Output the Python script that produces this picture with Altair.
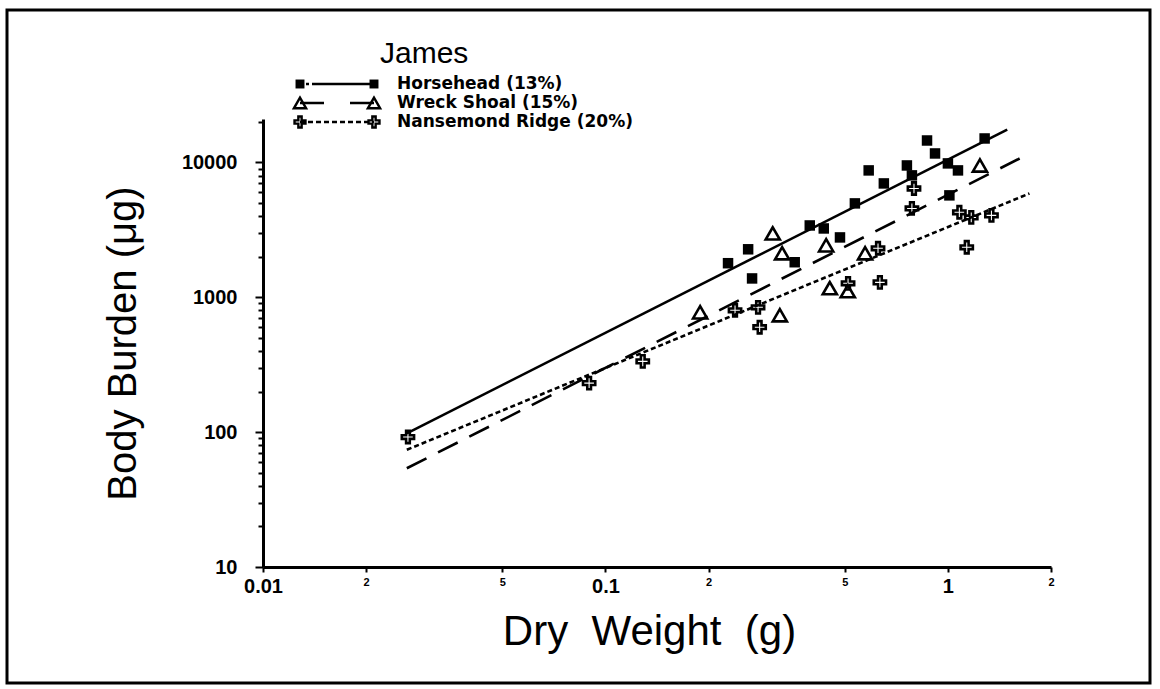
import altair as alt
import pandas as pd

# ---------------- data: dry weight (g) vs body burden (ug) ----------------
site_names = ["Horsehead (13%)", "Wreck Shoal (15%)", "Nansemond Ridge (20%)"]

hh_x = [0.228, 0.261, 0.268, 0.357, 0.395, 0.434, 0.484, 0.535, 0.587, 0.650,
        0.759, 0.785, 0.869, 0.917, 1.00, 1.07, 1.01, 1.28]
hh_y = [1790, 2270, 1380, 1820, 3410, 3240, 2780, 4970, 8730, 6990,
        9500, 8020, 14550, 11660, 9840, 8730, 5700, 15060]

ws_x = [0.189, 0.308, 0.328, 0.323, 0.441, 0.452, 0.510, 0.573, 1.24]
ws_y = [774, 2980, 2120, 736, 2430, 1170, 1110, 2120, 9500]

nr_x = [0.0265, 0.0896, 0.1285, 0.239, 0.279, 0.282, 0.511, 0.625, 0.633,
        0.796, 0.785, 1.08, 1.17, 1.34, 1.135]
nr_y = [92, 231, 335, 801, 843, 600, 1270, 2310, 1290,
        6410, 4560, 4270, 3910, 4050, 2350]

# fitted power-law lines, given by their end points
hh_fit_x = [0.0263, 1.49]
hh_fit_y = [98, 17540]
ws_fit_x = [0.0263, 1.62]
ws_fit_y = [54, 10700]
nr_fit_x = [0.0263, 1.73]
nr_fit_y = [74, 5890]

x_ticks = [0.01, 0.02, 0.05, 0.1, 0.2, 0.5, 1, 2]
y_ticks = [m * 10 ** k for k in range(1, 5) for m in range(1, 10) if m * 10 ** k <= 20000]

# ---------------- layout ----------------
W, H = 788, 448          # plot area
OX, OY = 263, 119        # plot origin inside the page
FONT = "Liberation Sans"
LEG_FONT = "DejaVu Sans"
PLUS = ("M-0.3,-1L0.3,-1L0.3,-0.3L1,-0.3L1,0.3L0.3,0.3L0.3,1L-0.3,1"
        "L-0.3,0.3L-1,0.3L-1,-0.3L-0.3,-0.3Z")
NB = "\u00a0"

big_label = ("datum.value < 0.015 || (datum.value > 0.07 && datum.value < 0.15)"
             " || (datum.value > 0.7 && datum.value < 1.5)")

x_scale = alt.Scale(type="log", domain=[0.01, 2], nice=False)
y_scale = alt.Scale(type="log", domain=[10, 21000], nice=False)

x_axis = alt.Axis(
    title=f"Dry{NB} Weight{NB} (g)", values=x_ticks, grid=False,
    labelExpr=("datum.value < 0.015 ? '0.01' : datum.value < 0.03 ? '2' : "
               "datum.value < 0.07 ? '5' : datum.value < 0.15 ? '0.1' : "
               "datum.value < 0.3 ? '2' : datum.value < 0.7 ? '5' : "
               "datum.value < 1.5 ? '1' : '2'"),
    labelFontSize={"condition": {"test": big_label, "value": 20}, "value": 11},
    labelBaseline="top", labelPadding=4, labelFlush=False, labelOverlap=False,
    labelFont=FONT, labelFontWeight="bold", labelColor="black",
    tickSize=5, tickWidth=2, tickColor="black",
    domainColor="black", domainWidth=3,
    titleFont=FONT, titleFontSize=42, titleFontWeight="normal", titleColor="black",
    titleX=386, titleY=77, titleBaseline="alphabetic", titleAlign="center",
)

y_axis = alt.Axis(
    title="Body Burden (μg)", values=y_ticks, grid=False,
    labelExpr="indexof([10, 100, 1000, 10000], datum.value) >= 0 ? format(datum.value, 'd') : ''",
    labelFontSize=20, labelPadding=18, labelOverlap=False, labelFlush=False,
    labelFont=FONT, labelFontWeight="bold", labelColor="black", labelBaseline="middle",
    tickSize={"condition": {"test": "indexof([10, 100, 1000, 10000], datum.value) >= 0",
                            "value": 8}, "value": 5},
    tickWidth=2, tickColor="black",
    domainColor="black", domainWidth=3,
    titleFont=FONT, titleFontSize=40, titleFontWeight="normal", titleColor="black",
    titleAngle=270, titleX=-128, titleY=224, titleBaseline="alphabetic", titleAlign="center",
)


def frame(xs, ys, site):
    return pd.DataFrame({"x": xs, "y": ys, "site": site})


def xy():
    return dict(x=alt.X("x:Q", scale=x_scale, axis=x_axis),
                y=alt.Y("y:Q", scale=y_scale, axis=y_axis))


LINE_W = 2.6
dash = {"solid": [1, 0], "dashed": [22, 13], "dotted": [5, 3]}

fit_layers = [
    alt.Chart(frame(hh_fit_x, hh_fit_y, site_names[0])).mark_line(
        color="black", strokeWidth=LINE_W).encode(**xy()),
    alt.Chart(frame(ws_fit_x, ws_fit_y, site_names[1])).mark_line(
        color="black", strokeWidth=LINE_W, strokeDash=dash["dashed"]).encode(**xy()),
    alt.Chart(frame(nr_fit_x, nr_fit_y, site_names[2])).mark_line(
        color="black", strokeWidth=LINE_W, strokeDash=dash["dotted"]).encode(**xy()),
]

point_layers = [
    alt.Chart(frame(hh_x, hh_y, site_names[0])).mark_point(
        shape="square", filled=True, color="black", size=110, opacity=1).encode(**xy()),
    alt.Chart(frame(ws_x, ws_y, site_names[1])).mark_point(
        shape="triangle-up", filled=False, color="black", size=200,
        strokeWidth=2.6, opacity=1).encode(**xy()),
    alt.Chart(frame(nr_x, nr_y, site_names[2])).mark_point(
        shape=PLUS, filled=False, color="black", size=150,
        strokeWidth=2.6, opacity=1).encode(**xy()),
]

# ---------------- legend, drawn in page pixels relative to the plot origin ----------------
one = pd.DataFrame({"t": [""]})


def text_at(txt, x, y, size, weight="bold", font=LEG_FONT):
    return alt.Chart(pd.DataFrame({"t": [txt]})).mark_text(
        align="left", baseline="middle", font=font, fontSize=size,
        fontWeight=weight, color="black").encode(
        x=alt.value(x), y=alt.value(y), text="t:N")


def symbol_at(shape, x, y, size, filled):
    return alt.Chart(one).mark_point(
        shape=shape, filled=filled, color="black", size=size,
        strokeWidth=2.4, opacity=1).encode(x=alt.value(x), y=alt.value(y))


def rule_at(x1, x2, y, pattern):
    return alt.Chart(one).mark_rule(
        color="black", strokeWidth=2.4, strokeDash=pattern).encode(
        x=alt.value(x1), x2=alt.value(x2), y=alt.value(y))


LX1, LX2, LTX = 300 - OX, 374 - OX, 397 - OX
rows = [84 - OY, 103 - OY, 122 - OY]
legend_layers = [
    text_at("James", 380 - OX, 54 - OY, 30, weight="normal", font=FONT),
    rule_at(LX1, LX1 + 12, rows[0], [3, 3]),
    rule_at(LX1 + 12, LX2, rows[0], dash["solid"]),
    symbol_at("square", LX1, rows[0], 80, True),
    symbol_at("square", LX2, rows[0], 80, True),
    text_at(site_names[0], LTX, rows[0], 17),
    rule_at(LX1, LX2, rows[1], [24, 26]),
    symbol_at("triangle-up", LX1, rows[1], 150, False),
    symbol_at("triangle-up", LX2, rows[1], 150, False),
    text_at(site_names[1], LTX, rows[1], 17),
    rule_at(LX1, LX2, rows[2], dash["dotted"]),
    symbol_at(PLUS, LX1, rows[2], 120, False),
    symbol_at(PLUS, LX2, rows[2], 120, False),
    text_at(site_names[2], LTX, rows[2], 17),
]

# page frame
border = alt.Chart(one).mark_rect(fillOpacity=0, stroke="black", strokeWidth=3).encode(
    x=alt.value(7 - OX), x2=alt.value(1150 - OX),
    y=alt.value(10 - OY), y2=alt.value(683 - OY))

chart = alt.layer(*fit_layers, *point_layers, *legend_layers, border).properties(
    width=W, height=H,
    autosize=alt.AutoSizeParams(type="none"),
    padding={"left": OX, "top": OY, "right": 1160 - OX - W, "bottom": 689 - OY - H},
    background="white",
).configure_view(stroke=None)

chart.save("out.html", embed_options={"renderer": "svg", "actions": False})
